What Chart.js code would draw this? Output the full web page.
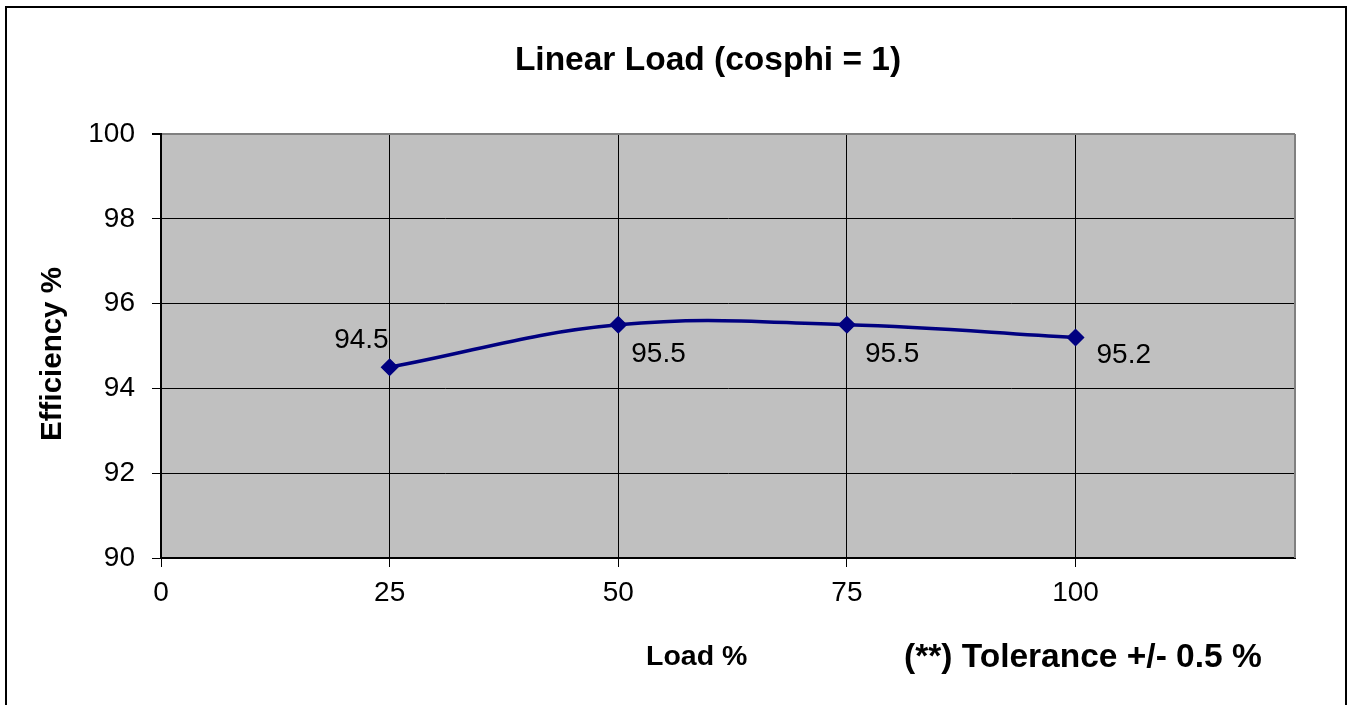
<!DOCTYPE html>
<html>
<head>
<meta charset="utf-8">
<script src="https://cdn.jsdelivr.net/npm/chart.js@4/dist/chart.umd.min.js"></script>
<style>
  html, body { margin: 0; padding: 0; background: #fff; }
  #wrap { width: 1354px; height: 705px; position: relative; }
</style>
</head>
<body>
<div id="wrap"><canvas id="c" width="1354" height="705"></canvas></div>
<script>
// ---- data ----
const loadPercent = [25, 50, 75, 100];
const efficiency = [94.5, 95.5, 95.5, 95.2];
const dataLabels = ['94.5', '95.5', '95.5', '95.2'];
const xTicks = [0, 25, 50, 75, 100];
const yTicks = [90, 92, 94, 96, 98, 100];
const chartTitle = 'Linear Load (cosphi = 1)';
const xTitle = 'Load %';
const yTitle = 'Efficiency %';
const noteText = '(**) Tolerance +/- 0.5 %';

// ---- style ----
const FONT = '"Liberation Sans", Arial, sans-serif';
const labelOffsets = [[-1, -19, 'right'], [13, 37, 'left'], [18, 37, 'left'], [21, 25, 'left']];

const decor = {
  id: 'decor',
  beforeDraw(chart) {
    const ctx = chart.ctx, a = chart.chartArea;
    ctx.save();
    ctx.fillStyle = '#fff';
    ctx.fillRect(0, 0, chart.width, chart.height);
    ctx.strokeStyle = '#000';
    ctx.lineWidth = 2;
    ctx.strokeRect(6, 7, 1340, 800);
    ctx.fillStyle = '#C0C0C0';
    ctx.fillRect(a.left, a.top, a.right - a.left, a.bottom - a.top);
    ctx.restore();
  },
  beforeDatasetsDraw(chart) {
    const ctx = chart.ctx, a = chart.chartArea;
    ctx.save();
    ctx.strokeStyle = '#808080';
    ctx.lineWidth = 2;
    ctx.beginPath();
    ctx.moveTo(a.right, a.top);
    ctx.lineTo(a.right, a.bottom);
    ctx.stroke();
    ctx.restore();
  },
  afterDraw(chart) {
    const ctx = chart.ctx;
    ctx.save();
    ctx.fillStyle = '#000';
    ctx.textBaseline = 'alphabetic';
    // title
    ctx.font = 'bold 33.5px ' + FONT;
    ctx.textAlign = 'center';
    ctx.fillText(chartTitle, 708, 70);
    // x title
    ctx.font = 'bold 28.5px ' + FONT;
    ctx.textAlign = 'left';
    ctx.fillText(xTitle, 646, 665);
    // note
    ctx.font = 'bold 33.5px ' + FONT;
    ctx.fillText(noteText, 904, 667);
    // y title
    ctx.save();
    ctx.translate(61, 354);
    ctx.rotate(-Math.PI / 2);
    ctx.font = 'bold 29.5px ' + FONT;
    ctx.textAlign = 'center';
    ctx.fillText(yTitle, 0, 0);
    ctx.restore();
    // data labels
    const meta = chart.getDatasetMeta(0);
    ctx.font = '28px ' + FONT;
    meta.data.forEach((pt, i) => {
      const o = labelOffsets[i];
      ctx.textAlign = o[2];
      ctx.fillText(dataLabels[i], pt.x + o[0], pt.y + o[1]);
    });
    ctx.restore();
  }
};

new Chart(document.getElementById('c'), {
  type: 'line',
  data: {
    datasets: [{
      data: loadPercent.map((x, i) => ({ x: x, y: efficiency[i] })),
      borderColor: '#000080',
      backgroundColor: '#000080',
      borderWidth: 3.5,
      tension: 0.4,
      pointStyle: 'rectRot',
      pointRadius: 8,
      pointBorderWidth: 1.5,
      pointBorderColor: '#000080',
      pointBackgroundColor: '#000080',
      fill: false,
      clip: false
    }]
  },
  options: {
    responsive: false,
    animation: false,
    events: [],
    layout: { padding: { top: 134, left: 0, right: 59, bottom: 0 } },
    plugins: { legend: { display: false }, title: { display: false }, tooltip: { enabled: false } },
    scales: {
      x: {
        type: 'linear',
        min: 0,
        max: 124,
        afterBuildTicks: s => { s.ticks = xTicks.map(v => ({ value: v })); },
        afterFit: s => { s.height = 147; },
        ticks: { font: { family: FONT, size: 28 }, color: '#000', padding: 9, maxRotation: 0, autoSkip: false },
        grid: { color: '#000', lineWidth: 1, tickLength: 9, tickColor: '#000', drawOnChartArea: true },
        border: { display: true, color: '#000', width: 2 }
      },
      y: {
        type: 'linear',
        min: 90,
        max: 100,
        afterBuildTicks: s => { s.ticks = yTicks.map(v => ({ value: v })); },
        afterFit: s => { s.width = 161; },
        ticks: { font: { family: FONT, size: 28 }, color: '#000', padding: 17, autoSkip: false },
        grid: {
          color: c => (c.tick && c.tick.value === 100) ? '#808080' : '#000',
          lineWidth: c => (c.tick && c.tick.value === 100) ? 2 : 1,
          tickLength: 9,
          tickColor: '#000'
        },
        border: { display: true, color: '#000', width: 2 }
      }
    }
  },
  plugins: [decor]
});
</script>
</body>
</html>
